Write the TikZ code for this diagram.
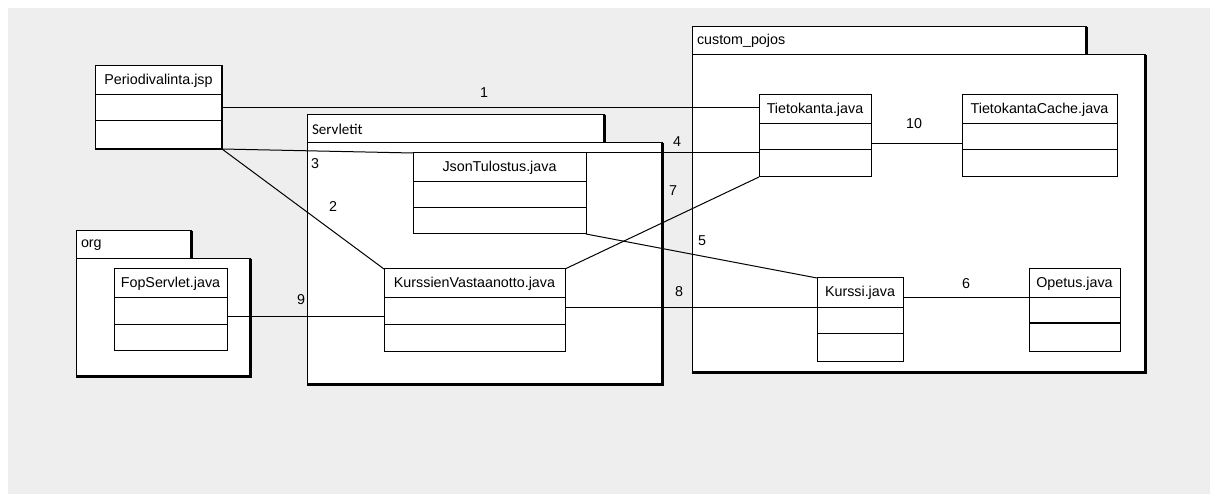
\documentclass[tikz,border=0pt]{standalone}
\usepackage{fontspec}
\setmainfont{Liberation Sans}
\newfontfamily\servfont{Carlito}
\usepackage{tikz}
\usetikzlibrary{shapes, arrows}
\usetikzlibrary{positioning}
\definecolor{canvas}{RGB}{238,238,238}
\tikzstyle{head} = [rectangle, draw = black, fill = white, line width = 1,
  outer sep = 0, inner sep = 0, minimum height = 29, text centered,
  font = \fontsize{14.3}{17}\selectfont]
\tikzstyle{part} = [rectangle, draw = black, fill = white, line width = 1,
  outer sep = 0, inner sep = 0, minimum height = 26]
\tikzstyle{tab} = [
  rectangle, draw = black, fill = white, line width = 1,
  outer sep = 0, inner xsep = 5, inner ysep = 0,
  minimum height = 28, align = left,
  font = \fontsize{14.3}{17}\selectfont
]
\tikzstyle{pkg} = [rectangle, draw = black, fill = white, line width = 1,
  outer sep = 0, inner sep = 0]
\tikzstyle{heavy} = [line width = 3]
\tikzstyle{link} = [line width = 1]
\tikzstyle{num} = [inner sep = 0, font = \fontsize{14.3}{17}\selectfont]

\begin{document}
\begin{tikzpicture}[x = 1pt, y = -1pt, node distance = 0]
      \useasboundingbox (0, 0) rectangle (1210, 494);
      \fill [canvas] (8, 8) rectangle (1210, 494);

      \node [tab, text width = 105, anchor = north west] (org-tab) at (76, 231) {org};
      \node [pkg, minimum width = 174, minimum height = 117, below right = 0 and 0 of org-tab.south west] (org) {};
      \node [tab, text width = 287, anchor = north west, font = \servfont\fontsize{15}{17}\selectfont] (srv-tab) at (307, 115) {Servletit};
      \node [pkg, minimum width = 355, minimum height = 241, below right = 0 and 0 of srv-tab.south west] (srv) {};
      \node [tab, text width = 384, anchor = north west] (pojo-tab) at (692, 27) {custom\_pojos};
      \node [pkg, minimum width = 453, minimum height = 317, below right = 0 and 0 of pojo-tab.south west] (pojo) {};

      \draw [heavy] (org-tab.north east) -- (org-tab.south east);
      \draw [heavy] (org.north east) -- (org.south east) -- (org.south west);
      \draw [heavy] (srv-tab.north east) -- (srv-tab.south east);
      \draw [heavy] (srv.north east) -- (srv.south east) -- (srv.south west);
      \draw [heavy] (pojo-tab.north east) -- (pojo-tab.south east);
      \draw [heavy] (pojo.north east) -- (pojo.south east) -- (pojo.south west);

      \node [head, minimum width = 127, anchor = north west] (peri) at (95, 66) {Periodivalinta.jsp};
      \node [part, minimum width = 127, below = of peri] (peri-a) {};
      \node [part, minimum width = 127, below = of peri-a, minimum height = 28] (peri-b) {};
      \draw [line width = 2.5] (peri.north east) -- (peri-b.south east) -- (peri-b.south west);

      \node [head, minimum width = 113, anchor = north west] (fop) at (114, 269) {FopServlet.java};
      \node [part, minimum width = 113, below = of fop] (fop-a) {};
      \node [part, minimum width = 113, below = of fop-a] (fop-b) {};

      \node [head, minimum width = 173, anchor = north west] (json) at (413, 153) {JsonTulostus.java};
      \node [part, minimum width = 173, below = of json] (json-a) {};
      \node [part, minimum width = 173, below = of json-a] (json-b) {};

      \node [head, minimum width = 181, anchor = north west] (kva) at (384, 269) {KurssienVastaanotto.java};
      \node [part, minimum width = 181, below = of kva] (kva-a) {};
      \node [part, minimum width = 181, below = of kva-a, minimum height = 27] (kva-b) {};

      \node [head, minimum width = 112, anchor = north west] (tieto) at (759, 95) {Tietokanta.java};
      \node [part, minimum width = 112, below = of tieto] (tieto-a) {};
      \node [part, minimum width = 112, below = of tieto-a, minimum height = 27] (tieto-b) {};

      \node [head, minimum width = 155, anchor = north west] (cache) at (962, 95) {TietokantaCache.java};
      \node [part, minimum width = 155, below = of cache] (cache-a) {};
      \node [part, minimum width = 155, below = of cache-a, minimum height = 27] (cache-b) {};

      \node [head, minimum width = 86, anchor = north west, minimum height = 30] (kurssi) at (817, 278) {Kurssi.java};
      \node [part, minimum width = 86, below = of kurssi, minimum height = 25] (kurssi-a) {};
      \node [part, minimum width = 86, below = of kurssi-a, minimum height = 28] (kurssi-b) {};

      \node [head, minimum width = 91, anchor = north west] (opetus) at (1029, 269) {Opetus.java};
      \node [part, minimum width = 91, below = of opetus, minimum height = 25] (opetus-a) {};
      \node [part, minimum width = 91, below = of opetus-a, minimum height = 28] (opetus-b) {};

      \draw [link] (peri-a.east) -- (peri-a.east -| tieto.west);
      \draw [link] (peri-b.south east) -- (kva.north west);
      \draw [link] (peri-b.south east) -- (json.north west);
      \draw [link] (json.north east) -- (json.north east -| tieto-b.west);
      \draw [link] (json-b.south east) -- (kurssi.north west);
      \draw [link] (kurssi.east |- opetus.south) -- (opetus.south west);
      \draw [link] (kva.north east) -- (tieto-b.south west);
      \draw [link] (kurssi.south west -| kva-a.east) -- (kurssi.south west);
      \draw [link] ([yshift = -6]fop-a.east) -- ([yshift = -6]fop-a.east -| kva-a.west);
      \draw [link] ([yshift = -7]tieto-a.east) -- ([yshift = -7]cache-a.west);

      \node [num] (n-1) at (484, 93) {1};
      \node [num] (n-2) at (333, 207) {2};
      \node [num] (n-3) at (315, 164) {3};
      \node [num] (n-4) at (677, 142) {4};
      \node [num] (n-5) at (702, 241) {5};
      \node [num] (n-6) at (966, 284) {6};
      \node [num] (n-7) at (673, 191) {7};
      \node [num] (n-8) at (679, 292) {8};
      \node [num] (n-9) at (301, 300) {9};
      \node [num] (n-10) at (914, 124) {10};
\end{tikzpicture}
\end{document}
